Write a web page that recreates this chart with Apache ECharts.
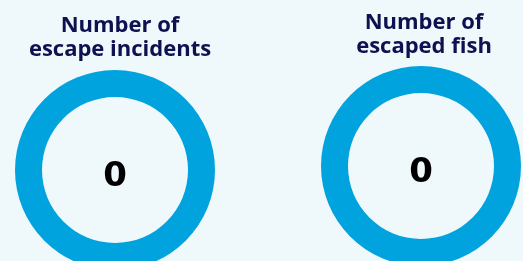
<!DOCTYPE html>
<html>
<head>
    <meta charset="utf-8">
    <title>Escapes</title>
    <script src="https://cdn.jsdelivr.net/npm/echarts@6/dist/echarts.min.js"></script>
    <style>
        html, body { margin: 0; padding: 0; background: #eff8fb; }
    </style>
</head>
<body>
    <div id="main" style="width: 523px;height:261px;"></div>
    <script type="text/javascript">
        // the two counters
        var labels = ['Number of\nescape incidents', 'Number of\nescaped fish'];
        var values = [0, 0];

        var centers = [[115, 170], [421, 166]];
        var titleX = [120, 424];
        var titleY = [14, 11];

        var myChart = echarts.init(document.getElementById('main'));

        var titles = [];
        var series = [];
        for (var i = 0; i < labels.length; i++) {
            titles.push({
                text: labels[i],
                left: titleX[i],
                top: titleY[i],
                padding: 0,
                textAlign: 'center',
                textStyle: {
                    color: '#0e1150',
                    fontFamily: 'Open Sans',
                    fontWeight: 'bold',
                    fontSize: 22,
                    lineHeight: 24
                }
            });
            series.push({
                type: 'pie',
                center: centers[i],
                radius: [73, 100],
                silent: true,
                stillShowZeroSum: true,
                itemStyle: { color: '#00a3dd' },
                label: {
                    position: 'center',
                    formatter: '{c}',
                    color: '#000',
                    fontFamily: 'DejaVu Sans',
                    fontWeight: 'bold',
                    fontSize: 34,
                    offset: [0, 7]
                },
                labelLine: { show: false },
                data: [{ name: labels[i], value: values[i] }]
            });
        }

        myChart.setOption({
            backgroundColor: '#eff8fb',
            animation: false,
            title: titles,
            series: series
        });
    </script>
</body>
</html>
